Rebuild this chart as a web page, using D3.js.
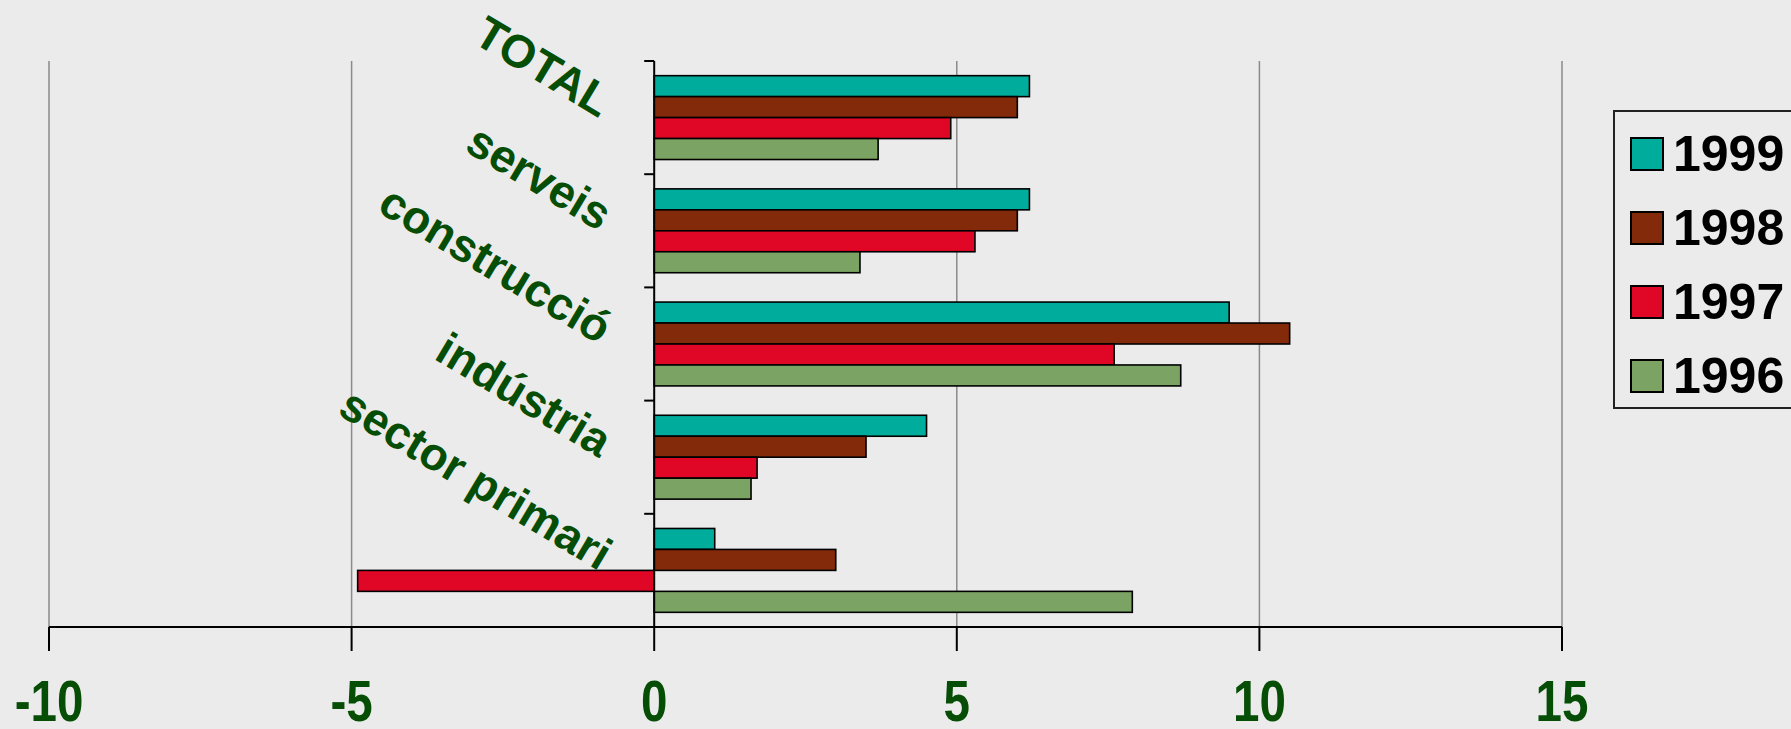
<!DOCTYPE html>
<html>
<head>
<meta charset="utf-8">
<script src="https://cdn.jsdelivr.net/npm/d3@7"></script>
<style>
  html, body { margin: 0; padding: 0; background: #ebebeb; overflow: hidden; }
  svg { display: block; }
</style>
</head>
<body>
<svg id="chart"></svg>
<script>
// Chart data
const categories = ['TOTAL', 'serveis', 'construcció', 'indústria', 'sector primari'];
const years = ['1999', '1998', '1997', '1996'];
const values1999 = [6.2, 6.2, 9.5, 4.5, 1.0];
const values1998 = [6.0, 6.0, 10.5, 3.5, 3.0];
const values1997 = [4.9, 5.3, 7.6, 1.7, -4.9];
const values1996 = [3.7, 3.4, 8.7, 1.6, 7.9];
const xTicks = [-10, -5, 0, 5, 10, 15];

const seriesValues = { '1999': values1999, '1998': values1998, '1997': values1997, '1996': values1996 };
const colours = { '1999': '#00ad9c', '1998': '#822a0a', '1997': '#e00626', '1996': '#7ba363' };
const labelColour = '#064d06';

// Some set up.
const width = 1791;
const height = 729;
const svg = d3.select('#chart').attr('width', width).attr('height', height);

svg.append('rect').attr('width', width).attr('height', height).attr('fill', '#ebebeb');

// Scales
const x = d3.scaleLinear().domain([-10, 15]).range([49, 1562]);
const y = d3.scaleBand().domain(categories).range([61, 627]).padding(0);
const yInner = d3.scaleBand().domain(years).range([0, y.bandwidth()]).paddingInner(0).paddingOuter(0.7);

// Gridlines
svg.append('g')
  .selectAll('line')
  .data(xTicks.filter(d => d !== 0))
  .join('line')
  .attr('x1', d => x(d)).attr('x2', d => x(d))
  .attr('y1', y.range()[0]).attr('y2', y.range()[1])
  .attr('stroke', '#8a8a8a')
  .attr('stroke-width', 1.5);

// Bars
const rows = [];
categories.forEach((cat, i) => {
  years.forEach(yr => rows.push({ cat, yr, v: seriesValues[yr][i] }));
});

svg.append('g')
  .selectAll('rect')
  .data(rows)
  .join('rect')
  .attr('x', d => x(Math.min(0, d.v)))
  .attr('y', d => y(d.cat) + yInner(d.yr))
  .attr('width', d => Math.abs(x(d.v) - x(0)))
  .attr('height', yInner.bandwidth())
  .attr('fill', d => colours[d.yr])
  .attr('stroke', '#000')
  .attr('stroke-width', 1.6);

// X axis
const xAxis = svg.append('g').attr('transform', `translate(0,${y.range()[1]})`);
xAxis.append('line')
  .attr('x1', x(-10)).attr('x2', x(15))
  .attr('stroke', '#000').attr('stroke-width', 2);
xAxis.selectAll('line.tick')
  .data(xTicks)
  .join('line')
  .attr('class', 'tick')
  .attr('x1', d => x(d)).attr('x2', d => x(d))
  .attr('y1', 0).attr('y2', 24)
  .attr('stroke', '#000').attr('stroke-width', 2);
// narrow-looking tick labels: squeeze horizontally
xAxis.selectAll('text')
  .data(xTicks)
  .join('text')
  .attr('transform', d => `translate(${x(d)},94) scale(0.82,1)`)
  .attr('text-anchor', 'middle')
  .attr('font-family', '"Liberation Sans", Arial, sans-serif')
  .attr('font-weight', 'bold')
  .attr('font-size', 58)
  .attr('fill', labelColour)
  .text(d => d);

// Y axis at zero
const yAxis = svg.append('g');
yAxis.append('line')
  .attr('x1', x(0)).attr('x2', x(0))
  .attr('y1', y.range()[0]).attr('y2', y.range()[1])
  .attr('stroke', '#000').attr('stroke-width', 2);
const boundaries = categories.map(c => y(c)).concat([y.range()[1]]);
yAxis.selectAll('line.tick')
  .data(boundaries)
  .join('line')
  .attr('class', 'tick')
  .attr('x1', x(0) - 10).attr('x2', x(0))
  .attr('y1', d => d).attr('y2', d => d)
  .attr('stroke', '#000').attr('stroke-width', 2);

// Category labels, rotated
yAxis.selectAll('text')
  .data(categories)
  .join('text')
  .attr('transform', d => `translate(${x(0) - 55},${y(d) + y.bandwidth() / 2 + 1}) rotate(31)`)
  .attr('text-anchor', 'end')
  .attr('font-family', '"Liberation Sans", Arial, sans-serif')
  .attr('font-weight', 'bold')
  .attr('font-size', 46)
  .attr('fill', labelColour)
  .text(d => d);

// Legend
const legend = svg.append('g').attr('transform', 'translate(1614,111)');
legend.append('rect')
  .attr('width', 300).attr('height', 297)
  .attr('fill', 'none')
  .attr('stroke', '#222').attr('stroke-width', 2);
const item = legend.selectAll('g.item')
  .data(years)
  .join('g')
  .attr('class', 'item')
  .attr('transform', (d, i) => `translate(17,${27 + i * 74})`);
item.append('rect')
  .attr('width', 32).attr('height', 32)
  .attr('fill', d => colours[d])
  .attr('stroke', '#000').attr('stroke-width', 2);
item.append('text')
  .attr('x', 42).attr('y', 33)
  .attr('font-family', '"Liberation Sans", Arial, sans-serif')
  .attr('font-weight', 'bold')
  .attr('font-size', 50)
  .attr('fill', '#000')
  .text(d => d);
</script>
</body>
</html>
